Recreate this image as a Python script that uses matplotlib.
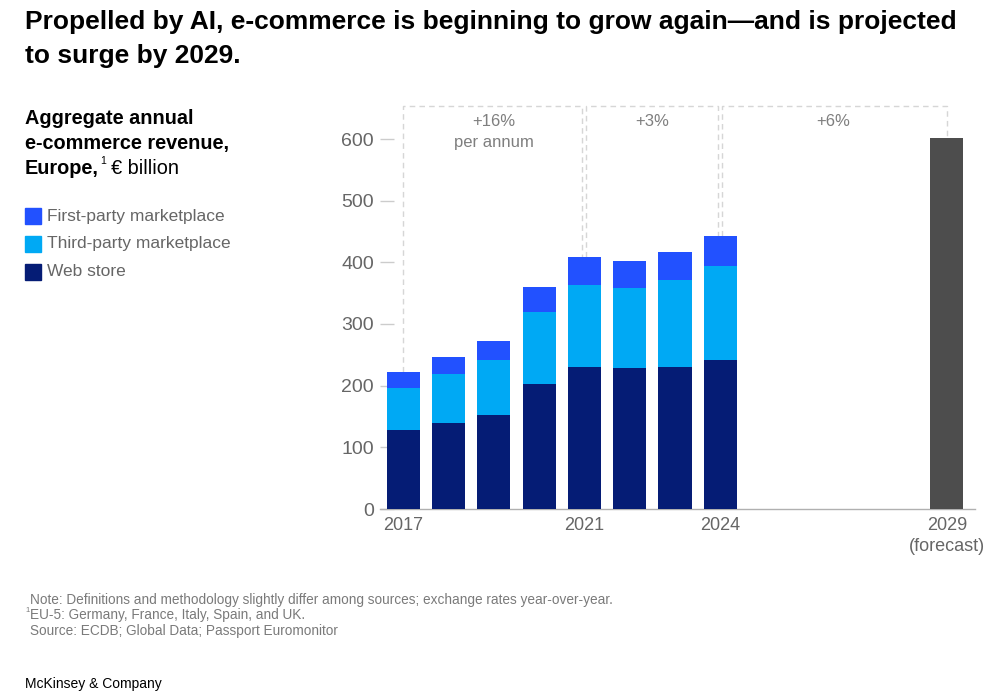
import numpy as np
import matplotlib.pyplot as plt

plt.rcParams['font.family'] = ['Liberation Sans', 'DejaVu Sans']

# data, € billion
years = np.array([2017, 2018, 2019, 2020, 2021, 2022, 2023, 2024])
web_store = np.array([128, 140, 153, 203, 230, 228, 231, 242])
third_party = np.array([69, 79, 89, 117, 133, 131, 140, 152])
first_party = np.array([25, 28, 31, 40, 45, 43, 46, 48])
forecast_year = 2029
forecast_value = 602

growth_spans = [(2017, 2021), (2021, 2024), (2024, 2029)]
growth_labels = ['+16%\nper annum', '+3%', '+6%']

tick_years = [2017, 2021, 2024, 2029]
tick_labels = ['2017', '2021', '2024', '2029\n(forecast)']

c_first = '#2251FF'
c_third = '#00A9F4'
c_web = '#051C75'
c_fore = '#4D4D4D'
grey_txt = '#666666'

fig = plt.figure(figsize=(10.02, 6.94), dpi=100)
ax = fig.add_axes([380/1002, 1 - 509/694, (975-380)/1002, (509-102)/694])

w = 0.73
ax.bar(years, web_store, w, color=c_web, zorder=3)
ax.bar(years, third_party, w, bottom=web_store, color=c_third, zorder=3)
ax.bar(years, first_party, w, bottom=web_store + third_party, color=c_first, zorder=3)
ax.bar([forecast_year], [forecast_value], w, color=c_fore, zorder=3)

ax.set_xlim(2016.49, 2029.62)
ax.set_ylim(0, 660)

# growth brackets
totals = dict(zip(years, web_store + third_party + first_party))
totals[forecast_year] = forecast_value
top = 653
gap = 0.045
dash = dict(color='#d6d6d6', lw=1, ls=(0, (4, 3)), zorder=1)
for i, (a, b) in enumerate(growth_spans):
    xa = a + (gap if i > 0 else 0)
    xb = b - (gap if i < len(growth_spans) - 1 else 0)
    ax.plot([xa, xa, xb, xb], [totals[a], top, top, totals[b]], **dash)
    lines = growth_labels[i].split('\n')
    ax.text((a + b) / 2, 628, lines[0], ha='center', va='center',
            fontsize=12, color='#7f7f7f')
    if len(lines) > 1:
        ax.text((a + b) / 2, 594, lines[1], ha='center', va='center',
                fontsize=12, color='#7f7f7f')

for s in ['top', 'right', 'left']:
    ax.spines[s].set_visible(False)
ax.spines['bottom'].set_color('#b0b0b0')
ax.spines['bottom'].set_linewidth(1)

ax.set_yticks(range(0, 700, 100))
ax.tick_params(axis='y', direction='in', length=10, width=1, color='#cccccc', pad=4.5,
               labelsize=14, labelcolor=grey_txt)
ax.set_xticks(tick_years)
ax.set_xticklabels(tick_labels, linespacing=1.25)
ax.tick_params(axis='x', length=0, pad=6, labelsize=13, labelcolor=grey_txt)

# titles
fig.text(25/1002, 1 - 22/694, 'Propelled by AI, e-commerce is beginning to grow again\u2014and is projected',
         fontsize=19, fontweight='bold', va='center', color='black')
fig.text(25/1002, 1 - 56/694, 'to surge by 2029.',
         fontsize=19, fontweight='bold', va='center', color='black')

sub = 14.3
fig.text(25/1002, 1 - 119/694, 'Aggregate annual', fontsize=sub, fontweight='bold', va='center')
fig.text(25/1002, 1 - 144/694, 'e-commerce revenue,', fontsize=sub, fontweight='bold', va='center')
fig.text(25/1002, 1 - 168/694, 'Europe,', fontsize=sub, fontweight='bold', va='center')
fig.text(100/1002, 1 - 161/694, '1', fontsize=7.5, va='center')
fig.text(111/1002, 1 - 168/694, '\u20ac billion', fontsize=sub, va='center')

# legend
leg = [('First-party marketplace', c_first), ('Third-party marketplace', c_third), ('Web store', c_web)]
for i, (lab, col) in enumerate(leg):
    y = 216 + i * 28
    fig.patches.append(plt.Rectangle((25/1002, 1 - (y + 8)/694), 16/1002, 16/694,
                                     color=col, transform=fig.transFigure, figure=fig))
    fig.text(47/1002, 1 - y/694, lab, fontsize=12.5, color=grey_txt, va='center')

# notes
note_c = '#7a7a7a'
nfs = 9.8
fig.text(30/1002, 1 - 600/694, 'Note: Definitions and methodology slightly differ among sources; exchange rates year-over-year.',
         fontsize=nfs, color=note_c, va='center')
fig.text(25/1002, 1 - 611/694, '1', fontsize=5.5, color=note_c, va='center')
fig.text(30/1002, 1 - 615/694, 'EU-5: Germany, France, Italy, Spain, and UK.',
         fontsize=nfs, color=note_c, va='center')
fig.text(30/1002, 1 - 631/694, 'Source: ECDB; Global Data; Passport Euromonitor',
         fontsize=nfs, color=note_c, va='center')
fig.text(25/1002, 1 - 684/694, 'McKinsey & Company', fontsize=10, color='black', va='center')

fig.savefig('out.png', dpi=100)
